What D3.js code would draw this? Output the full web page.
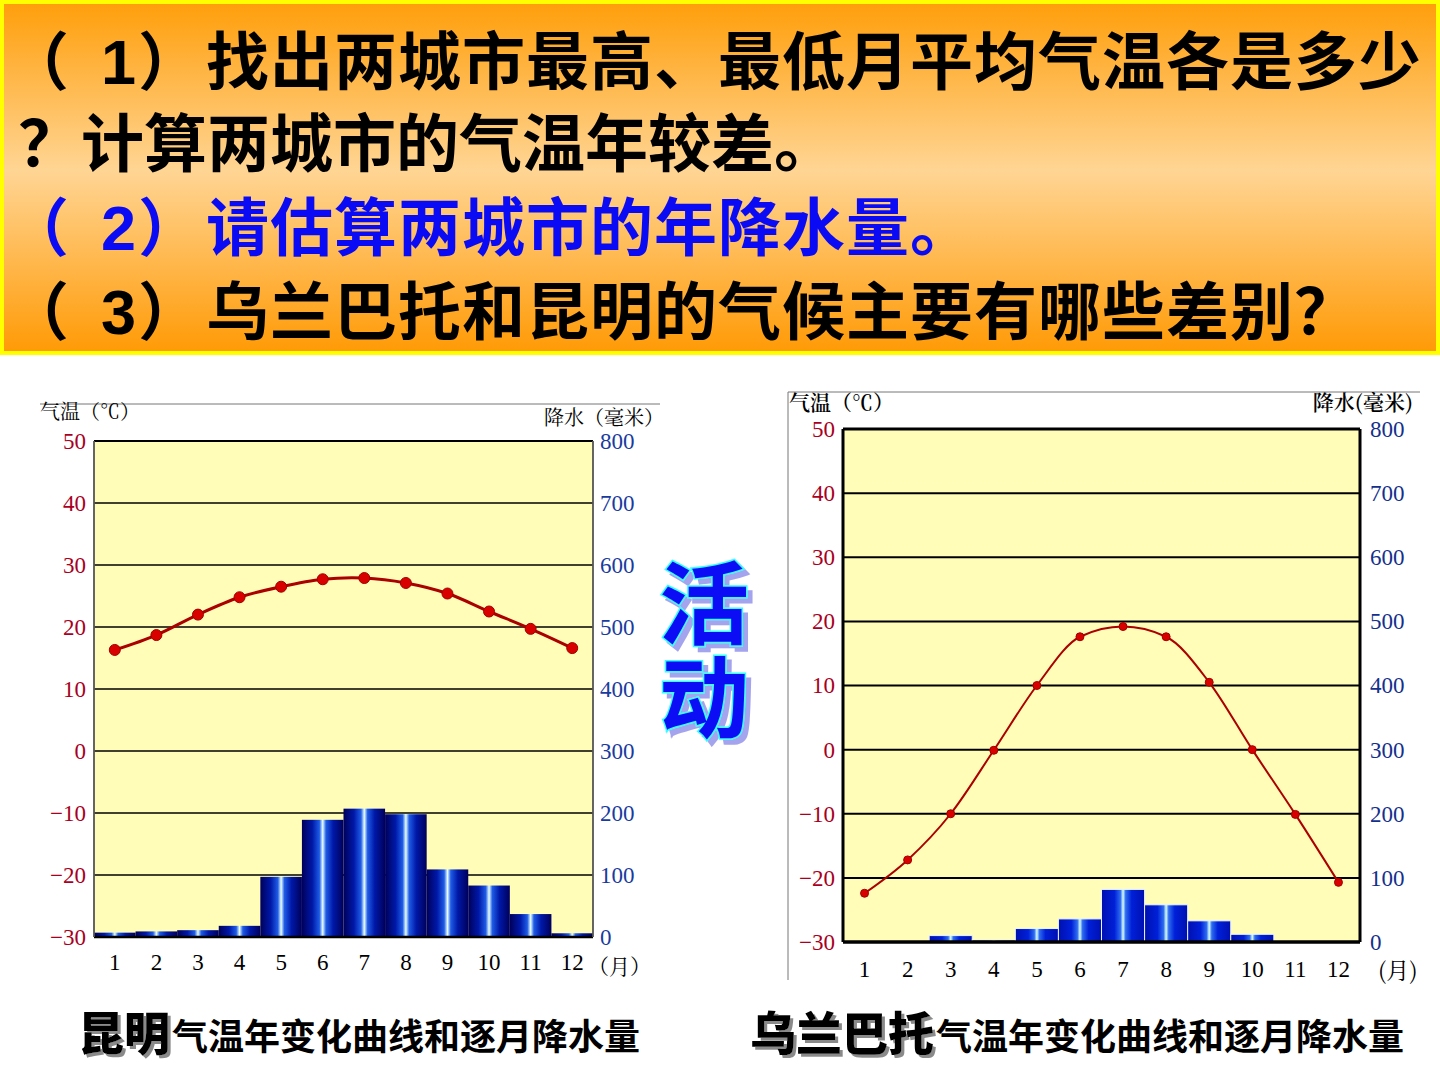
<!DOCTYPE html>
<html><head><meta charset="utf-8">
<script src="https://cdn.jsdelivr.net/npm/d3@7"></script>
<style>
html,body{margin:0;padding:0;background:#fff;}
svg{display:block;}
</style></head>
<body>
<script>
// ---------- data ----------
const months = ["1","2","3","4","5","6","7","8","9","10","11","12"];
const kunmingTemp   = [16.3,18.7,22.0,24.8,26.5,27.7,27.9,27.1,25.4,22.5,19.7,16.6];
const kunmingPrecip = [7,9,11,18,97,189,207,198,109,83,37,6];
const ulaanTemp     = [-22.4,-17.2,-10.0,-0.1,10.0,17.6,19.2,17.6,10.5,0.0,-10.1,-20.7];
const ulaanPrecip   = [0,0,10,3,21,36,82,58,33,12,0,0];
const tempTicks   = [50,40,30,20,10,0,-10,-20,-30];
const precipTicks = [800,700,600,500,400,300,200,100,0];
const questionNums  = ["1", "", "2", "3"];
const questionLines = [
  "找出两城市最高、最低月平均气温各是多少",
  "？计算两城市的气温年较差。",
  "请估算两城市的年降水量。",
  "乌兰巴托和昆明的气候主要有哪些差别？"
];

const W = 1440, H = 1080;
const svg = d3.select("body").append("svg").attr("width", W).attr("height", H);
const defs = svg.append("defs");
const CJK = "'Noto Sans CJK SC','Noto Sans',sans-serif";
const SERIF = "'Liberation Serif','DejaVu Serif',serif";

// filters (shadows)
const f1 = defs.append("filter").attr("id","grayShadow").attr("x","-10%").attr("y","-10%").attr("width","130%").attr("height","130%");
f1.append("feDropShadow").attr("dx",3).attr("dy",3).attr("stdDeviation",0.6).attr("flood-color","#8a8a8a").attr("flood-opacity",1);
const f2 = defs.append("filter").attr("id","purpleShadow").attr("x","-10%").attr("y","-10%").attr("width","130%").attr("height","130%");
f2.append("feDropShadow").attr("dx",5).attr("dy",5).attr("stdDeviation",0.5).attr("flood-color","#A4A4EE").attr("flood-opacity",1);

// ---------- banner ----------
const bg = defs.append("linearGradient").attr("id","bannerGrad").attr("x1",0).attr("y1",0).attr("x2",0).attr("y2",1);
bg.append("stop").attr("offset","0%").attr("stop-color","#FF9E0A");
bg.append("stop").attr("offset","48%").attr("stop-color","#FFD594");
bg.append("stop").attr("offset","100%").attr("stop-color","#FF9A05");
svg.append("rect").attr("x",2).attr("y",2).attr("width",W-4).attr("height",351)
  .attr("fill","url(#bannerGrad)").attr("stroke","#FFFF00").attr("stroke-width",4);

const lineY = [84, 166, 250, 334];
const lineColor = ["#000","#000","#0A0AF5","#000"];
questionLines.forEach((t,i)=>{
  const txt = svg.append("text").attr("y",lineY[i])
    .attr("font-family",CJK).attr("font-weight",700).attr("font-size",63)
    .attr("fill",lineColor[i]);
  if (questionNums[i]) {
    txt.append("tspan").attr("x",6).text("（");
    txt.append("tspan").attr("x",101).attr("font-family","'Liberation Sans',Arial,sans-serif").text(questionNums[i]);
    txt.append("tspan").attr("x",138).text("）");
    txt.append("tspan").attr("x",206).attr("letter-spacing",1).text(t);
  } else {
    txt.append("tspan").attr("x",18).text(t);
  }
});

// ---------- chart builder ----------
function drawChart(cfg){
  const g = svg.append("g");
  const x = d3.scaleBand().domain(months).range([cfg.x0,cfg.x1]).padding(0);
  const yT = d3.scaleLinear().domain([-30,50]).range([cfg.y1,cfg.y0]);
  const yP = d3.scaleLinear().domain([0,800]).range([cfg.y1,cfg.y0]);

  cfg.frame(g);

  g.append("rect").attr("x",cfg.x0).attr("y",cfg.y0).attr("width",cfg.x1-cfg.x0).attr("height",cfg.y1-cfg.y0)
    .attr("fill","#FFFDB8");

  g.append("g").selectAll("line").data(tempTicks.filter(d=>d>-30 && d<50)).join("line")
    .attr("x1",cfg.x0).attr("x2",cfg.x1).attr("y1",d=>yT(d)).attr("y2",d=>yT(d))
    .attr("stroke","#000").attr("stroke-width",cfg.gridW);

  const gid = cfg.id+"BarGrad";
  const bgd = defs.append("linearGradient").attr("id",gid).attr("x1",0).attr("y1",0).attr("x2",1).attr("y2",0);
  cfg.barStops.forEach(s=>bgd.append("stop").attr("offset",s[0]).attr("stop-color",s[1]));
  g.append("g").selectAll("rect").data(cfg.precip.map((v,i)=>({m:months[i],v}))).join("rect")
    .attr("x",d=>x(d.m)).attr("width",x.bandwidth())
    .attr("y",d=>yP(d.v)).attr("height",d=>yP(0)-yP(d.v))
    .attr("fill",`url(#${gid})`)
    .attr("stroke",cfg.barStroke).attr("stroke-width",cfg.barStroke==="none"?0:1);

  g.append("line").attr("x1",cfg.x0).attr("x2",cfg.x1).attr("y1",cfg.y0).attr("y2",cfg.y0).attr("stroke","#000").attr("stroke-width",cfg.borderW);
  g.append("line").attr("x1",cfg.x0).attr("x2",cfg.x1).attr("y1",cfg.y1).attr("y2",cfg.y1).attr("stroke","#000").attr("stroke-width",cfg.borderW+0.5);
  g.append("line").attr("x1",cfg.x0).attr("x2",cfg.x0).attr("y1",cfg.y0).attr("y2",cfg.y1).attr("stroke",cfg.sideColor).attr("stroke-width",cfg.borderW);
  g.append("line").attr("x1",cfg.x1).attr("x2",cfg.x1).attr("y1",cfg.y0).attr("y2",cfg.y1).attr("stroke",cfg.sideColor).attr("stroke-width",cfg.borderW);

  const pts = cfg.temp.map((v,i)=>({m:months[i],v}));
  const line = d3.line().x(d=>x(d.m)+x.bandwidth()/2).y(d=>yT(d.v)).curve(cfg.curve);
  g.append("path").datum(pts).attr("d",line).attr("fill","none")
    .attr("stroke","#AA0000").attr("stroke-width",cfg.lineW);
  g.append("g").selectAll("circle").data(pts).join("circle")
    .attr("cx",d=>x(d.m)+x.bandwidth()/2).attr("cy",d=>yT(d.v)).attr("r",cfg.dotR)
    .attr("fill","#D90000").attr("stroke","#A00000").attr("stroke-width",1);

  const fmt = d => d<0 ? "\u2212"+Math.abs(d) : String(d);
  const axL = d3.axisLeft(yT).tickValues(tempTicks).tickSize(0).tickPadding(cfg.padL).tickFormat(fmt);
  const gL = g.append("g").attr("transform",`translate(${cfg.x0},0)`).call(axL);
  gL.select(".domain").remove();
  gL.selectAll("text").attr("font-family",SERIF).attr("font-size",cfg.tickFS).attr("fill",cfg.leftColor);

  const axR = d3.axisRight(yP).tickValues(precipTicks).tickSize(0).tickPadding(cfg.padR);
  const gR = g.append("g").attr("transform",`translate(${cfg.x1},0)`).call(axR);
  gR.select(".domain").remove();
  gR.selectAll("text").attr("font-family",SERIF).attr("font-size",cfg.tickFS).attr("fill",cfg.rightColor);

  const axB = d3.axisBottom(x).tickSize(0).tickPadding(cfg.padB);
  const gB = g.append("g").attr("transform",`translate(0,${cfg.y1})`).call(axB);
  gB.select(".domain").remove();
  gB.selectAll("text").attr("font-family",SERIF).attr("font-size",cfg.tickFS).attr("fill","#000");

  g.append("text").attr("x",cfg.monthUnit[0]).attr("y",cfg.monthUnit[1]).attr("font-family",cfg.unitFont)
    .attr("font-size",cfg.unitFS).attr("fill","#000").attr("dominant-baseline","central").text(cfg.monthUnitText);

  g.append("text").attr("x",cfg.tTitle[0]).attr("y",cfg.tTitle[1]).attr("font-family",cfg.unitFont)
    .attr("font-size",cfg.titleFS).attr("font-weight",cfg.titleW).attr("fill","#000").text("气温（℃）");
  g.append("text").attr("x",cfg.pTitle[0]).attr("y",cfg.pTitle[1]).attr("text-anchor","end").attr("font-family",cfg.unitFont)
    .attr("font-size",cfg.titleFS).attr("font-weight",cfg.titleW).attr("fill","#000").text(cfg.pTitleText);
}

// Kunming (left)
drawChart({
  id:"km", x0:94, x1:593, y0:441, y1:937,
  temp:kunmingTemp, precip:kunmingPrecip,
  gridW:1.5, borderW:1.8, sideColor:"#555",
  barStops:[["0%","#00005A"],["25%","#0018A8"],["42%","#1E5BE6"],["50%","#E8FFFF"],["58%","#1E5BE6"],["75%","#0018A8"],["100%","#00005A"]],
  barStroke:"none",
  curve:d3.curveCatmullRom.alpha(0.5), lineW:3, dotR:5.5,
  padL:8, padR:7, padB:17, tickFS:23,
  leftColor:"#A8001E", rightColor:"#1A3B9E",
  monthUnit:[588,965], unitFS:21, monthUnitText:"（月）", unitFont:"'Noto Serif CJK SC','Noto Sans CJK SC',serif",
  tTitle:[40,419], pTitle:[664,425], pTitleText:"降水（毫米）", titleFS:20, titleW:400,
  frame:(g)=>{ g.append("line").attr("x1",40).attr("x2",660).attr("y1",404).attr("y2",404).attr("stroke","#777").attr("stroke-width",1); }
});

// Ulaanbaatar (right)
drawChart({
  id:"ub", x0:843, x1:1360, y0:429, y1:942,
  temp:ulaanTemp, precip:ulaanPrecip,
  gridW:2, borderW:3, sideColor:"#000",
  barStops:[["0%","#0010B0"],["30%","#0020D8"],["44%","#2E6CF0"],["50%","#D8FFFF"],["56%","#2E6CF0"],["70%","#0020D8"],["100%","#0010B0"]],
  barStroke:"#E8F4FF",
  curve:d3.curveMonotoneX, lineW:2, dotR:4,
  padL:8, padR:10, padB:19, tickFS:23,
  leftColor:"#A8001E", rightColor:"#15308C",
  monthUnit:[1378,969], unitFS:23, monthUnitText:"(月)", unitFont:"'Noto Serif CJK SC','Noto Sans CJK SC',serif",
  tTitle:[789,410], pTitle:[1413,410], pTitleText:"降水(毫米)", titleFS:21, titleW:600,
  frame:(g)=>{
    g.append("line").attr("x1",788).attr("x2",1420).attr("y1",392).attr("y2",392).attr("stroke","#777").attr("stroke-width",1);
    g.append("line").attr("x1",788).attr("x2",788).attr("y1",392).attr("y2",980).attr("stroke","#777").attr("stroke-width",1);
  }
});

// ---------- "活动" (vertical text) ----------
svg.append("g").attr("filter","url(#purpleShadow)")
  .append("text")
  .attr("x",704).attr("y",558)
  .style("writing-mode","vertical-rl")
  .attr("font-family",CJK).attr("font-weight",700).attr("font-size",90)
  .attr("letter-spacing",4)
  .attr("fill","#0A0AF5").attr("stroke","#33FFFF").attr("stroke-width",3).attr("paint-order","stroke")
  .text("活动");

// ---------- captions ----------
function caption(x, y, city, rest){
  const t = svg.append("text").attr("x",x).attr("y",y).attr("font-family",CJK).attr("fill","#000");
  t.append("tspan").attr("font-weight",900).attr("font-size",46).attr("filter","url(#grayShadow)").text(city);
  t.append("tspan").attr("font-weight",700).attr("font-size",36).attr("dx",2).text(rest);
}
caption(78, 1050, "昆明", "气温年变化曲线和逐月降水量");
caption(750, 1050, "乌兰巴托", "气温年变化曲线和逐月降水量");
</script>
</body></html>
